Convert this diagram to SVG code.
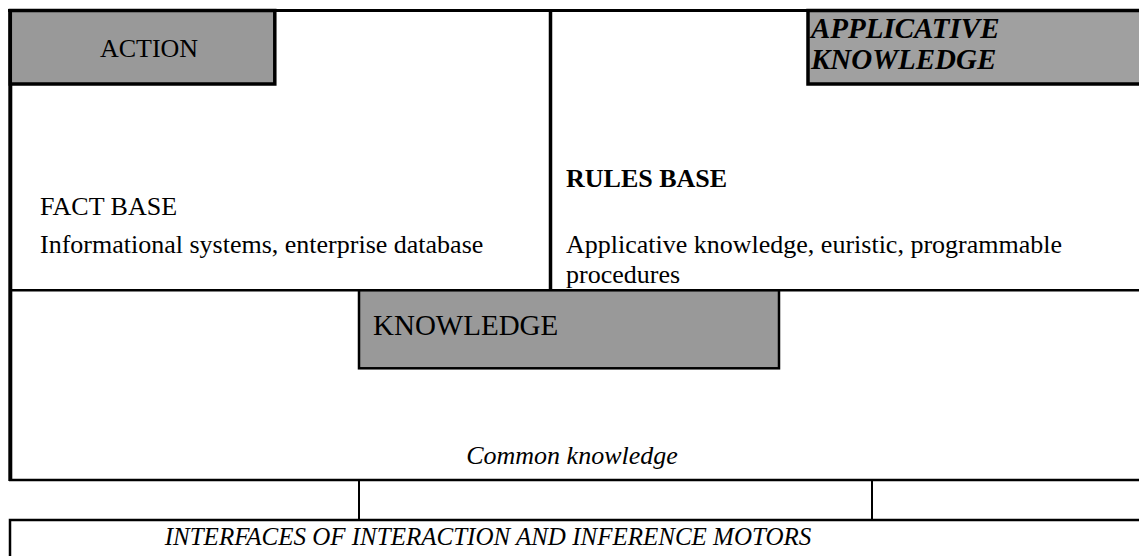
<svg xmlns="http://www.w3.org/2000/svg" width="1139" height="556" viewBox="0 0 1139 556">
  <style>
    text { font-family: "Liberation Serif", "DejaVu Serif", serif; font-size: 26px; fill: #000; }
    .it { font-style: italic; }
    .bd { font-weight: bold; }
    .line { stroke: #000; fill: none; }
    .tab { stroke: #000; stroke-width: 3.5; }
  </style>
  <rect width="1139" height="556" fill="#ffffff"/>

  <!-- outer frame and cell dividers -->
  <g id="connectors">
    <line class="line" x1="8" y1="10.5" x2="1139" y2="10.5" stroke-width="3"/>
    <line class="line" x1="10.3" y1="9" x2="10.3" y2="481" stroke-width="4"/>
    <line class="line" x1="550.5" y1="10" x2="550.5" y2="290" stroke-width="3.5"/>
    <line class="line" x1="9" y1="290.3" x2="1139" y2="290.3" stroke-width="2.5"/>
    <line class="line" x1="9" y1="480" x2="1139" y2="480" stroke-width="2.5"/>
    <line class="line" x1="359" y1="480" x2="359" y2="520" stroke-width="2"/>
    <line class="line" x1="872" y1="480" x2="872" y2="520" stroke-width="2"/>
  </g>

  <g id="action">
    <rect class="tab" x="10.3" y="10.5" width="264.5" height="73.5" fill="#999999"/>
    <text x="149" y="57" text-anchor="middle">ACTION</text>
  </g>

  <g id="applicative-knowledge">
    <rect class="tab" x="808" y="10.5" width="340" height="73.5" fill="#a0a0a0"/>
    <text class="it bd" x="811" y="38" style="font-size:29px">APPLICATIVE</text>
    <text class="it bd" x="811" y="69" style="font-size:29px">KNOWLEDGE</text>
  </g>

  <g id="fact-base">
    <text x="40" y="215">FACT BASE</text>
    <text x="40" y="253">Informational systems, enterprise database</text>
  </g>

  <g id="rules-base">
    <text class="bd" x="566" y="187">RULES BASE</text>
    <text x="566" y="253">Applicative knowledge, euristic, programmable</text>
    <text x="566" y="283">procedures</text>
  </g>

  <g id="knowledge">
    <rect x="359" y="290.3" width="420" height="78" fill="#999999" stroke="#000" stroke-width="2.5"/>
    <text x="373" y="335" style="font-size:29px">KNOWLEDGE</text>
  </g>

  <g id="common-knowledge">
    <text class="it" x="572" y="464" text-anchor="middle">Common knowledge</text>
  </g>

  <g id="interfaces">
    <rect x="10" y="520" width="1140" height="50" fill="none" stroke="#000" stroke-width="2.5"/>
    <text class="it" x="488" y="544.5" text-anchor="middle" style="font-size:25px">INTERFACES OF INTERACTION AND INFERENCE MOTORS</text>
  </g>
</svg>
